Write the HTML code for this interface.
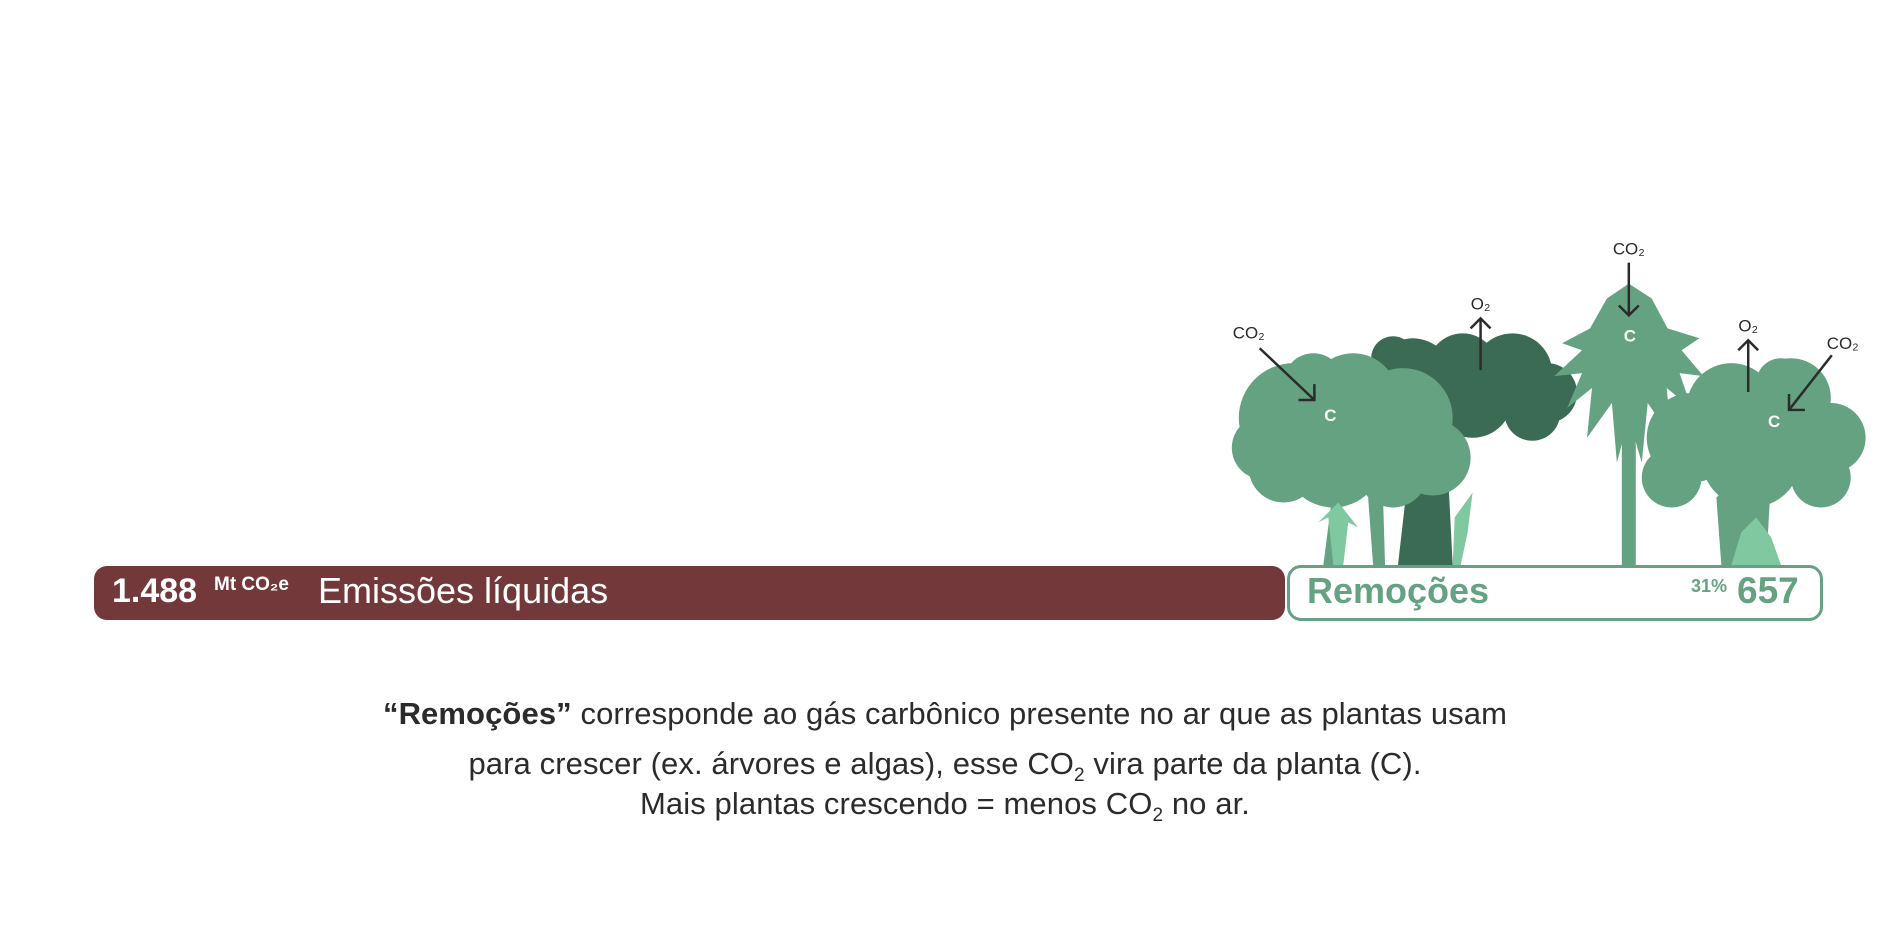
<!DOCTYPE html>
<html><head><meta charset="utf-8"><style>
html,body{margin:0;padding:0;background:#fff;}
body{width:1890px;height:945px;position:relative;overflow:hidden;font-family:"Liberation Sans",sans-serif;}
.bar{position:absolute;left:94px;top:566px;width:1191px;height:54px;background:#73393a;border-radius:13px;}
.box{position:absolute;left:1287px;top:565px;width:530px;height:50px;border:3px solid #64a281;border-radius:14px;background:#fff;}
.t{position:absolute;white-space:nowrap;}
.desc{position:absolute;left:0;width:1890px;text-align:center;color:#2b2b2b;font-size:31px;letter-spacing:0.1px;}
</style></head><body>
<svg width="1890" height="945" style="position:absolute;left:0;top:0">
<g transform="scale(0.995)">
<g fill="#3b6b55">
<circle cx="1420" cy="380" r="40"/><circle cx="1470" cy="370" r="35"/><circle cx="1520" cy="375" r="40"/><circle cx="1555" cy="395" r="30"/><circle cx="1540" cy="415" r="28"/><circle cx="1480" cy="400" r="40"/><circle cx="1400" cy="360" r="22"/>
<path d="M1405 568 L1415 480 L1440 440 L1470 430 L1455 470 L1460 568Z"/>
</g>
<g fill="#64a281">
<circle cx="1300" cy="420" r="55"/><circle cx="1270" cy="450" r="32"/><circle cx="1360" cy="400" r="45"/><circle cx="1410" cy="420" r="50"/><circle cx="1440" cy="460" r="38"/><circle cx="1340" cy="460" r="50"/><circle cx="1290" cy="470" r="35"/><circle cx="1400" cy="475" r="35"/><circle cx="1320" cy="385" r="30"/>
<path d="M1330 568 L1340 490 L1350 490 L1345 568Z"/><path d="M1380 568 L1375 500 L1390 500 L1392 568Z"/>
<rect x="1630" y="420" width="14" height="148"/>
<path d="M1637 285 L1615 300 L1598 330 L1570 345 L1590 352 L1562 378 L1590 375 L1575 410 L1600 390 L1595 440 L1620 405 L1625 465 L1637 420 L1650 465 L1656 405 L1680 440 L1675 390 L1700 410 L1688 375 L1712 378 L1690 352 L1708 340 L1676 330 L1660 300Z"/>
<circle cx="1700" cy="440" r="45"/><circle cx="1740" cy="410" r="45"/><circle cx="1800" cy="400" r="40"/><circle cx="1840" cy="440" r="35"/><circle cx="1830" cy="480" r="30"/><circle cx="1680" cy="480" r="30"/><circle cx="1760" cy="460" r="50"/><circle cx="1790" cy="385" r="25"/>
<path d="M1730 568 L1725 500 L1745 480 L1760 500 L1780 480 L1775 568Z"/>
</g>
<g fill="#7fc8a0">
<path d="M1340 568 L1335 520 L1325 525 L1345 505 L1365 530 L1355 525 L1350 568Z"/>
<path d="M1460 568 L1462 520 L1480 495 L1475 535 L1468 568Z"/>
<path d="M1740 568 L1750 535 L1765 520 L1780 540 L1790 568Z"/>
</g>
<g stroke="#2b2b2b" stroke-width="2.5" fill="none">
<path d="M1266 350 L1321 402"/><path d="M1305 402 L1321 402 L1321 386"/>
<path d="M1488 372 L1488 320"/><path d="M1478 330 L1488 320 L1498 330"/>
<path d="M1637 264 L1637 317"/><path d="M1627 307 L1637 317 L1647 307"/>
<path d="M1757 394 L1757 342"/><path d="M1747 352 L1757 342 L1767 352"/>
<path d="M1841 357 L1798 412"/><path d="M1798 396 L1798 412 L1814 412"/>
</g>
<g font-family="Liberation Sans" font-size="17" fill="#2b2b2b" text-anchor="middle">
<text x="1255" y="340">CO₂</text><text x="1488" y="311">O₂</text><text x="1637" y="256">CO₂</text><text x="1757" y="333">O₂</text><text x="1852" y="351">CO₂</text>
</g>
<g font-family="Liberation Sans" font-size="17" font-weight="bold" fill="#fff" text-anchor="middle">
<text x="1337" y="423">C</text><text x="1638" y="343">C</text><text x="1783" y="429">C</text>
</g>
</g>
</svg>
<div class="bar"></div>
<div class="t" style="left:112px;top:572px;color:#fff;font-size:34px;font-weight:bold;">1.488</div>
<div class="t" style="left:214px;top:574px;color:#fff;font-size:19px;font-weight:bold;">Mt CO₂e</div>
<div class="t" style="left:318px;top:570px;color:#fff;font-size:36px;">Emissões líquidas</div>
<div class="box"></div>
<div class="t" style="left:1307px;top:570px;color:#64a281;font-size:36px;font-weight:bold;">Remoções</div>
<div class="t" style="left:1691px;top:576px;color:#64a281;font-size:18px;font-weight:bold;">31%</div>
<div class="t" style="left:1737px;top:570px;color:#64a281;font-size:37px;font-weight:bold;">657</div>
<div class="desc" style="top:696px;"><b>“Remoções”</b> corresponde ao gás carbônico presente no ar que as plantas usam</div>
<div class="desc" style="top:746px;">para crescer (ex. árvores e algas), esse CO<sub style="font-size:19px">2</sub> vira parte da planta (C).</div>
<div class="desc" style="top:786px;">Mais plantas crescendo = menos CO<sub style="font-size:19px">2</sub> no ar.</div>
</body></html>
